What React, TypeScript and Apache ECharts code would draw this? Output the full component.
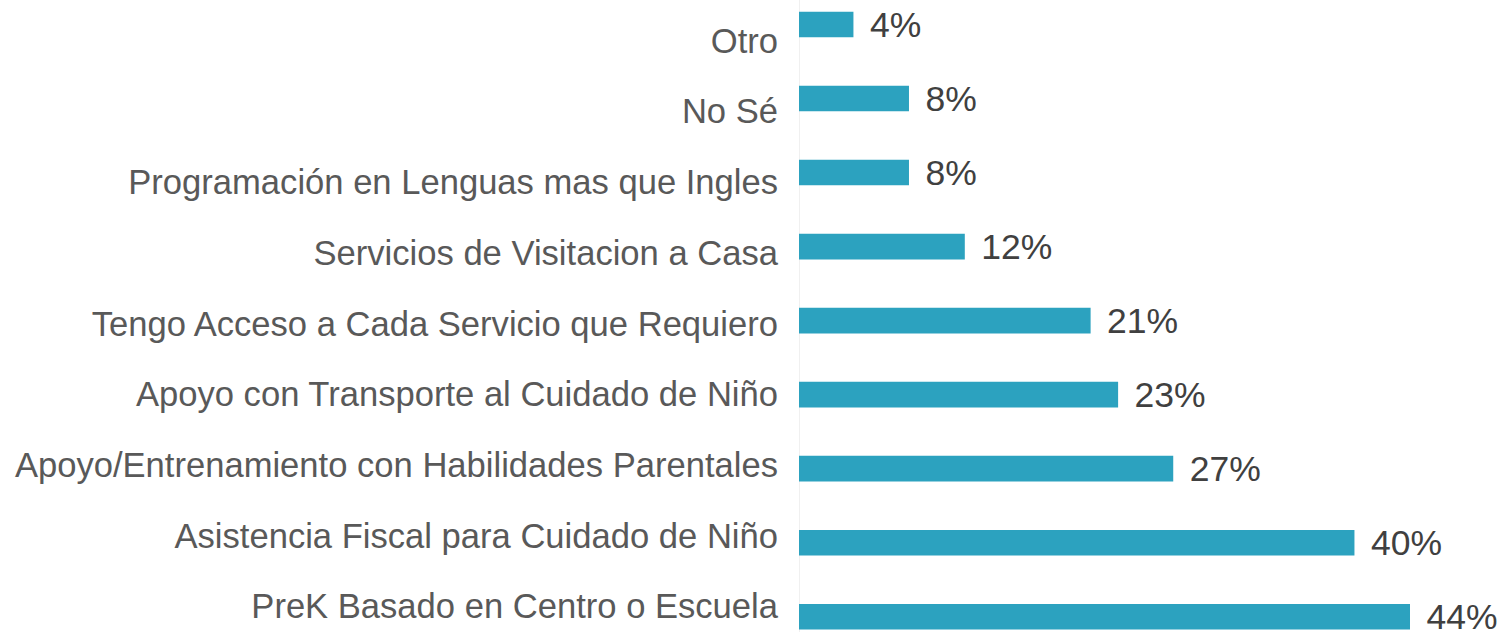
import React, { useEffect, useRef } from "react";
import * as echarts from "echarts";

const categories: string[] = [
  "Otro",
  "No Sé",
  "Programación en Lenguas mas que Ingles",
  "Servicios de Visitacion a Casa",
  "Tengo Acceso a Cada Servicio que Requiero",
  "Apoyo con Transporte al Cuidado de Niño",
  "Apoyo/Entrenamiento con Habilidades Parentales",
  "Asistencia Fiscal para Cuidado de Niño",
  "PreK Basado en Centro o Escuela",
];

const values: number[] = [3.92, 7.92, 7.92, 11.94, 21.0, 22.98, 26.95, 40.0, 44.0];

export default function App() {
  const ref = useRef<HTMLDivElement>(null);
  useEffect(() => {
    if (!ref.current) return;
    const chart = echarts.init(ref.current, undefined, { renderer: "svg" });
    chart.setOption({
      animation: false,
      backgroundColor: "#ffffff",
      grid: [
        { left: 799, right: 95, top: 24.5, bottom: 15.3, containLabel: false },
        { left: 799, right: 95, top: 40.8, bottom: 25.8, containLabel: false },
        { left: 799, right: 95, top: 0, bottom: 0, containLabel: false },
      ],
      xAxis: [
        { type: "value", gridIndex: 0, min: 0, max: 44, show: false },
        { type: "value", gridIndex: 1, min: 0, max: 44, show: false },
        { type: "value", gridIndex: 2, min: 0, max: 44, show: false },
      ],
      yAxis: [
        {
          type: "category",
          gridIndex: 0,
          data: categories,
          inverse: true,
          boundaryGap: false,
          axisLine: { show: false },
          axisTick: { show: false },
          axisLabel: { show: false },
          splitLine: { show: false },
        },
        {
          type: "category",
          gridIndex: 1,
          data: categories,
          inverse: true,
          boundaryGap: false,
          axisLine: { show: false },
          axisTick: { show: false },
          splitLine: { show: false },
          axisLabel: {
            show: true,
            interval: 0,
            margin: 21,
            fontSize: 34.6,
            fontFamily: "Liberation Sans, Arial, sans-serif",
            color: "#595959",
          },
        },
        {
          type: "value",
          gridIndex: 2,
          min: 0,
          max: 1,
          axisLine: { show: true, lineStyle: { color: "#F0F0F0", width: 1 } },
          axisTick: { show: false },
          axisLabel: { show: false },
          splitLine: { show: false },
        },
      ],
      series: [
        {
          type: "bar",
          xAxisIndex: 0,
          yAxisIndex: 0,
          data: values,
          barWidth: 25.6,
          z: 3,
          itemStyle: { color: "#2CA2BF" },
          label: {
            show: true,
            position: "right",
            distance: 16.5,
            offset: [0, 0],
            fontSize: 35.5,
            lineHeight: 28,
            fontFamily: "Liberation Sans, Arial, sans-serif",
            color: "#404040",
            formatter: (p: any) => Math.round(p.value) + "%",
          },
        },
        {
          type: "scatter",
          xAxisIndex: 1,
          yAxisIndex: 1,
          data: [],
        },
        {
          type: "scatter",
          xAxisIndex: 2,
          yAxisIndex: 2,
          data: [],
        },
      ],
    });
    return () => chart.dispose();
  }, []);
  return (
    <div
      ref={ref}
      style={{ position: "absolute", left: 0, top: 0, width: 1505, height: 632 }}
    />
  );
}
